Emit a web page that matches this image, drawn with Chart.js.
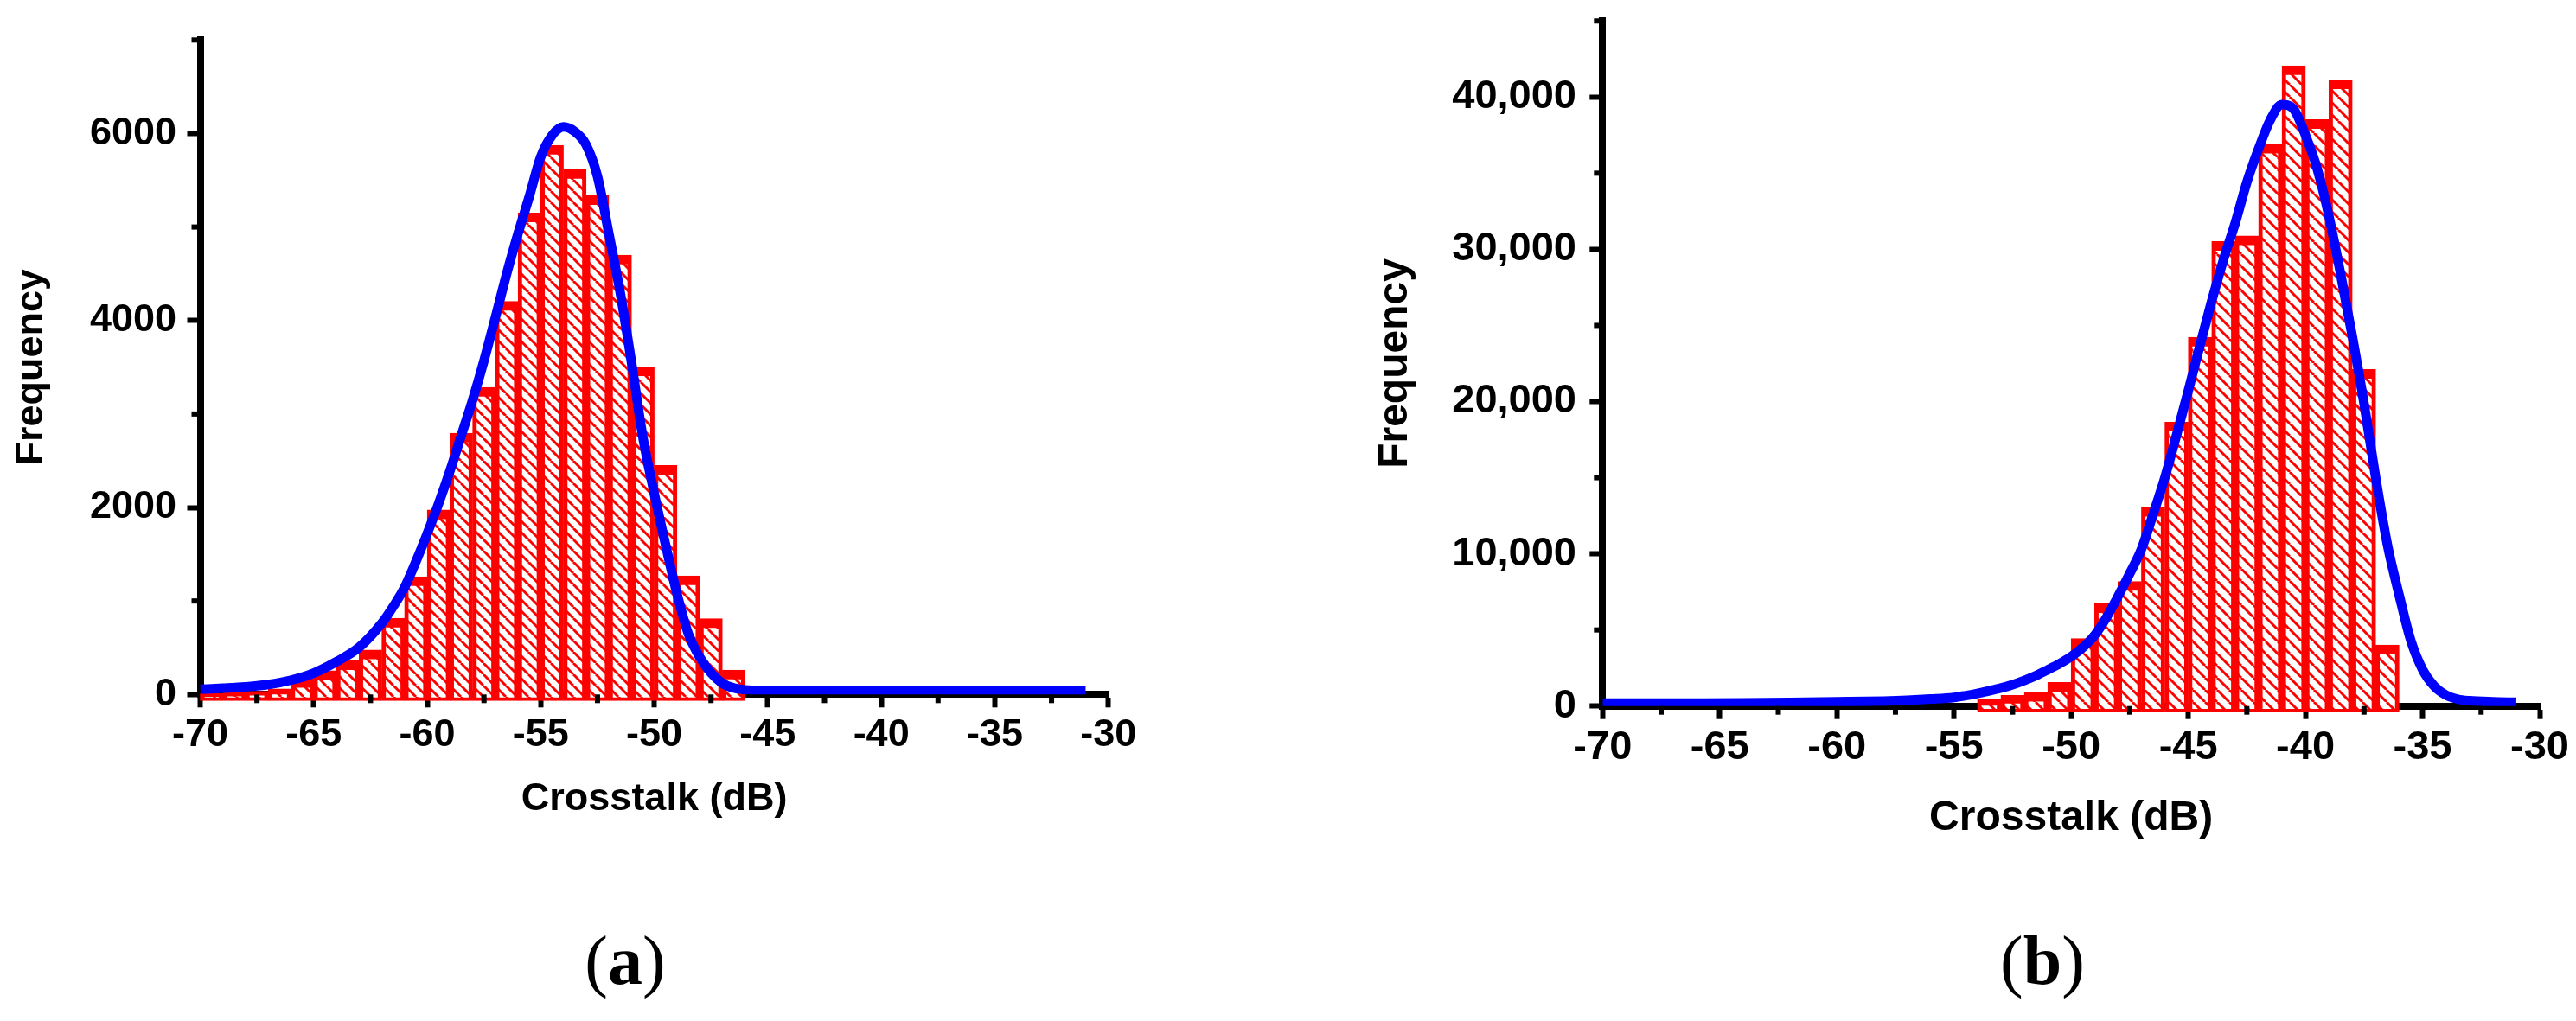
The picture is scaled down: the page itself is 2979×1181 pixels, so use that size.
<!DOCTYPE html>
<html><head><meta charset="utf-8">
<script src="https://cdn.jsdelivr.net/npm/chart.js@4.4.1/dist/chart.umd.min.js"></script>
<style>
html,body{margin:0;padding:0;background:#fff;}
#wrap{position:relative;width:2979px;height:1181px;overflow:hidden;background:#fff;}
canvas{position:absolute;top:0;}
#ca{left:0;} #cb{left:1500px;}
.cap{position:absolute;top:1071px;width:200px;text-align:center;font-family:'Liberation Serif','Times New Roman',serif;font-size:80px;line-height:80px;color:#000;white-space:nowrap;}
.cap b{font-weight:bold;}
</style></head>
<body><div id="wrap">
<canvas id="ca" width="1500" height="1181"></canvas>
<canvas id="cb" width="1479" height="1181"></canvas>
<div class="cap" style="left:623px">(<b>a</b>)</div>
<div class="cap" style="left:2262px">(<b>b</b>)</div>
</div>
<script>
// ---------- data: panel (a) ----------
const binCentersA = [-69.5,-68.5,-67.5,-66.5,-65.5,-64.5,-63.5,-62.5,-61.5,-60.5,-59.5,-58.5,-57.5,-56.5,-55.5,-54.5,-53.5,-52.5,-51.5,-50.5,-49.5,-48.5,-47.5,-46.5];
const countsA = [10,20,35,60,170,255,360,475,815,1260,1975,2795,3285,4205,5150,5875,5615,5335,4700,3505,2450,1270,810,260];
const fitXA = [-70,-69,-68,-67,-66,-65,-64,-63,-62,-61.5,-61,-60.5,-60,-59.5,-59,-58.5,-58,-57.5,-57,-56.5,-56,-55.5,-55,-54.5,-54,-53.5,-53,-52.5,-52,-51.5,-51,-50.5,-50,-49.5,-49,-48.5,-48,-47.5,-47,-46.5,-46,-45,-44,-42,-40,-38,-36,-34,-32,-31];
const fitYA = [55,67,82,107,153,229,351,504,763,940,1145,1420,1720,2040,2390,2770,3150,3570,4030,4500,4930,5330,5750,5980,6070,6020,5880,5540,4930,4300,3550,2750,2150,1600,1080,650,400,230,120,70,50,40,35,35,35,35,35,35,35,35];
const yTicksMajorA = 2000;

// ---------- data: panel (b) ----------
const binCentersB = [-53.5,-52.5,-51.5,-50.5,-49.5,-48.5,-47.5,-46.5,-45.5,-44.5,-43.5,-42.5,-41.5,-40.5,-39.5,-38.5,-37.5,-36.5];
const countsB = [420,700,900,1550,4440,6720,8190,13050,18640,24220,30510,30880,36900,42050,38520,41130,22110,4010];
const fitXB = [-70,-68,-66,-64,-62,-60,-58,-57,-56,-55,-54.5,-54,-53.5,-53,-52.5,-52,-51.5,-51,-50.5,-50,-49.5,-49,-48.5,-48,-47.5,-47,-46.5,-46,-45.5,-45,-44.5,-44,-43.5,-43,-42.5,-42,-41.5,-41,-40.5,-40,-39.5,-39,-38.5,-38,-37.5,-37,-36.5,-36,-35.5,-35,-34.5,-34,-33.5,-33,-32,-31];
const fitYB = [190,195,200,210,240,280,330,380,460,570,690,830,1000,1180,1400,1680,2000,2380,2780,3250,3850,4650,5800,7200,8700,10300,12600,15000,17800,20700,23700,26600,29300,31700,34400,36600,38500,39500,39200,37500,35300,32200,28400,24300,19900,15000,10600,7300,4300,2400,1300,720,450,350,280,250];
const yTicksMajorB = 10000;

const xLabel = 'Crosstalk (dB)';
const yLabel = 'Frequency';
const FONT = "'Liberation Sans', Arial, Helvetica, sans-serif";

function hatch(size) {
  const c = document.createElement('canvas');
  c.width = size; c.height = size;
  const g = c.getContext('2d');
  g.fillStyle = '#ffffff'; g.fillRect(0, 0, size, size);
  g.strokeStyle = '#ff0000'; g.lineWidth = 3;
  for (const o of [-size, 0, size]) {
    g.beginPath(); g.moveTo(o, 0); g.lineTo(o + size, size); g.stroke();
  }
  return g.createPattern(c, 'repeat');
}

function minorTicks(isMajX, isMajY, len) {
  return {
    id: 'minorTicks',
    afterDraw(chart) {
      const ctx = chart.ctx, xs = chart.scales.x, ys = chart.scales.y;
      ctx.save();
      ctx.strokeStyle = '#000'; ctx.lineWidth = 6; ctx.lineCap = 'butt';
      xs.ticks.forEach(t => {
        if (!isMajX(t.value)) {
          const px = xs.getPixelForValue(t.value);
          ctx.beginPath(); ctx.moveTo(px, xs.top); ctx.lineTo(px, xs.top + len); ctx.stroke();
        }
      });
      ys.ticks.forEach(t => {
        if (!isMajY(t.value)) {
          const py = ys.getPixelForValue(t.value);
          ctx.beginPath(); ctx.moveTo(ys.right, py); ctx.lineTo(ys.right - len, py); ctx.stroke();
        }
      });
      ctx.restore();
    }
  };
}

function build(id, g) {
  const canvas = document.getElementById(id);
  const ctx = canvas.getContext('2d');
  const isMajX = v => Math.abs(v % 5) < 1e-9;
  const isMajY = v => Math.abs(v % g.yMajor) < 1e-9;
  new Chart(ctx, {
    type: 'bar',
    data: {
      datasets: [
        {
          type: 'line',
          data: g.fitX.map((x, i) => ({x, y: g.fitY[i]})),
          borderColor: '#0000ff', borderWidth: 11, pointRadius: 0, fill: false,
          cubicInterpolationMode: 'monotone', order: 1
        },
        {
          type: 'bar',
          data: g.bins.map((x, i) => ({x, y: g.counts[i]})),
          backgroundColor: hatch(g.hatch), borderColor: '#ff0000',
          borderWidth: {top: 11, left: 5, right: 5, bottom: 4}, borderSkipped: false,
          barPercentage: 1, categoryPercentage: 1, base: g.base, clip: false, order: 2
        }
      ]
    },
    options: {
      responsive: false, devicePixelRatio: 1, animation: false, events: [],
      layout: {padding: {left: 0, top: g.top, right: g.right, bottom: 0}},
      plugins: {legend: {display: false}, tooltip: {enabled: false}},
      scales: {
        x: {
          type: 'linear', min: -70, max: -30, offset: false, z: 1,
          afterFit: s => { s.height = g.xH; s.paddingLeft = 0; s.paddingRight = 0; },
          border: {display: true, color: '#000', width: 8},
          grid: {display: true, offset: false, drawOnChartArea: false, drawTicks: true, tickLength: 15, tickWidth: 6,
                 tickColor: c => (c.tick && isMajX(c.tick.value)) ? '#000' : 'rgba(0,0,0,0)'},
          ticks: {stepSize: 2.5, autoSkip: false, maxRotation: 0, minRotation: 0, padding: g.xTickPad, color: '#000',
                  font: {family: FONT, size: g.tickSize, weight: 'bold'},
                  callback: v => isMajX(v) ? String(v) : ''},
          title: {display: true, text: xLabel, color: '#000', font: {family: FONT, size: g.titleSize, weight: 'bold'},
                  padding: {top: 0, bottom: g.xTitlePad}}
        },
        y: {
          type: 'linear', min: 0, max: g.yMax, z: 1,
          afterFit: s => { s.width = g.yW; s.paddingTop = 0; s.paddingBottom = 0; },
          border: {display: true, color: '#000', width: 8},
          grid: {display: true, drawOnChartArea: false, drawTicks: true, tickLength: 15, tickWidth: 6,
                 tickColor: c => (c.tick && isMajY(c.tick.value)) ? '#000' : 'rgba(0,0,0,0)'},
          ticks: {stepSize: g.yStep, autoSkip: false, padding: g.yTickPad, color: '#000',
                  font: {family: FONT, size: g.tickSize, weight: 'bold'},
                  callback: v => isMajY(v) ? (g.comma ? v.toLocaleString('en-US') : String(v)) : ''},
          title: {display: true, text: yLabel, color: '#000', font: {family: FONT, size: g.titleSize, weight: 'bold'},
                  padding: {top: g.yTitlePad, bottom: 0}}
        }
      }
    },
    plugins: [minorTicks(isMajX, isMajY, 10)]
  });
}

build('ca', {
  bins: binCentersA, counts: countsA, fitX: fitXA, fitY: fitYA,
  yMax: 7000, yStep: 1000, yMajor: yTicksMajorA, comma: false,
  top: 46.3, right: 218.3, xH: 377.7, yW: 231.5,
  tickSize: 45, titleSize: 45, xTickPad: 5, yTickPad: 12.5, xTitlePad: 229, yTitlePad: 10,
  base: -65, hatch: 13
});
build('cb', {
  bins: binCentersB, counts: countsB, fitX: fitXB, fitY: fitYB,
  yMax: 45000, yStep: 5000, yMajor: yTicksMajorB, comma: true,
  top: 24.25, right: 42, xH: 364.3, yW: 353.3,
  tickSize: 47, titleSize: 48, xTickPad: 5, yTickPad: 15.3, xTitlePad: 205, yTitlePad: 85,
  base: -400, hatch: 14
});
</script>
</body></html>
